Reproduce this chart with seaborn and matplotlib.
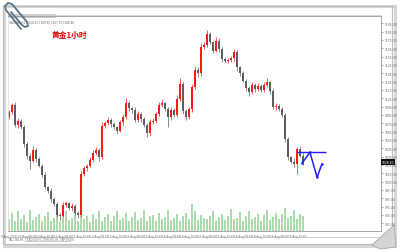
import matplotlib
matplotlib.use("Agg")
import matplotlib.pyplot as plt
import seaborn as sns
import pandas as pd
import numpy as np
from matplotlib.patches import Rectangle, Polygon
from matplotlib.lines import Line2D

# ---------------- data ----------------
closes = [1088, 1097, 1073, 1078, 1070, 1050, 1036, 1030, 1043, 1032,
          1024, 1013, 998, 994, 984, 978, 965, 964, 977, 979,
          973, 976, 967, 965, 1014, 1021, 1024, 1031, 1039, 1043,
          1034, 1072, 1075, 1079, 1074, 1070, 1066, 1076, 1082, 1099,
          1093, 1091, 1079, 1086, 1080, 1073, 1063, 1076, 1078, 1086,
          1097, 1099, 1092, 1082, 1091, 1085, 1104, 1122, 1090, 1082,
          1092, 1118, 1139, 1135, 1166, 1169, 1182, 1172, 1162, 1174,
          1164, 1152, 1150, 1151, 1153, 1160, 1142, 1135, 1126, 1117,
          1112, 1121, 1116, 1120, 1115, 1121, 1124, 1114, 1094, 1096,
          1092, 1085, 1056, 1034, 1029, 1026, 1044, 1036, 1028]
first_open = 1083
upper_wick = [3, 2, 4, 3, 2, 3, 2, 3, 5, 2,
              3, 2, 3, 2, 3, 2, 3, 2, 4, 3,
              2, 3, 2, 3, 4, 3, 2, 3, 4, 3,
              2, 5, 3, 4, 2, 3, 2, 3, 4, 6,
              3, 2, 3, 4, 2, 3, 2, 4, 3, 3,
              4, 5, 2, 3, 4, 2, 5, 7, 3, 2,
              3, 4, 5, 3, 5, 4, 5, 3, 2, 4,
              3, 2, 3, 2, 3, 4, 3, 2, 3, 2,
              3, 4, 2, 3, 2, 4, 5, 2, 3, 3,
              2, 3, 2, 3, 2, 4, 3, 4, 3]
lower_wick = [3, 2, 3, 4, 2, 3, 4, 10, 2, 3,
              2, 3, 2, 3, 4, 2, 3, 5, 2, 3,
              2, 3, 2, 4, 3, 2, 3, 2, 3, 2,
              4, 2, 3, 2, 3, 2, 4, 2, 3, 2,
              3, 4, 3, 2, 3, 2, 4, 3, 2, 3,
              2, 3, 2, 12, 3, 2, 3, 2, 4, 3,
              2, 3, 2, 4, 3, 2, 3, 2, 3, 2,
              3, 4, 2, 3, 2, 3, 4, 3, 2, 3,
              4, 2, 3, 2, 3, 2, 3, 4, 2, 3,
              2, 3, 4, 3, 2, 3, 12, 2, 3]
volumes = [3200, 4800, 2600, 5200, 3000, 4100, 2400, 5600, 2900, 3600,
           4400, 2500, 3800, 5000, 2700, 3400, 4600, 2300, 3900, 5200,
           2800, 3300, 4700, 2600, 5400, 3100, 3800, 2400, 4500, 3000,
           5100, 2700, 3600, 4300, 2500, 3900, 5300, 2800, 3400, 4600,
           2600, 3700, 4900, 2900, 3500, 5400, 2700, 3800, 4200, 2500,
           4700, 3100, 3600, 5600, 2800, 3300, 4400, 2600, 3900, 4800,
           3000, 7000, 5200, 2900, 4100, 3500, 3200, 3800, 5300, 2700,
           3600, 4500, 2800, 4000, 5700, 3100, 3500, 4900, 2700, 3800,
           5200, 3000, 3600, 4400, 2600, 4100, 5500, 2900, 3700, 4800,
           3100, 4300, 5900, 3400, 3900, 5600, 3200, 4500, 3800]
x_labels = ["9 Aug 2010", "10 Aug 08:00", "10 Aug 20:00", "11 Aug 08:00", "11 Aug 20:00",
            "12 Aug 08:00", "12 Aug 20:00", "13 Aug 08:00", "13 Aug 20:00", "16 Aug 08:00",
            "16 Aug 20:00", "17 Aug 08:00", "17 Aug 20:00", "18 Aug 08:00", "18 Aug 20:00",
            "19 Aug 08:00", "19 Aug 20:00"]
price_ticks = [955, 965, 975, 985, 995, 1005, 1015, 1025, 1035, 1045, 1055, 1065, 1075,
               1085, 1095, 1105, 1115, 1125, 1135, 1145, 1155, 1165, 1175, 1185, 1195]
forecast_idx = [97.7, 100.3, 102.7, 104.3]
forecast_price = [1027, 1040, 1010, 1026]
resistance = 1040
resistance_span = [96, 105.7]
current_price = 1028.40
title = "黄金1小时"

# ---------------- figure ----------------
sns.set_style("white")
plt.rcParams['font.family'] = ['DejaVu Sans']

W, H = 400, 253
fig = plt.figure(figsize=(W / 100, H / 100), dpi=100)
fig.patch.set_facecolor("white")

def fx(x):
    return x / W

def fy(y):
    return 1 - y / H

# page frame with shadow
fig.add_artist(Rectangle((fx(4), fy(247)), fx(391), 240 / H, transform=fig.transFigure,
                         fill=False, ec="#d6d6d6", lw=2.2))
fig.add_artist(Rectangle((fx(3), fy(245)), fx(389), 238 / H, transform=fig.transFigure,
                         fill=False, ec="#bdbdbd", lw=0.8))
# page curl bottom-right
fig.add_artist(Polygon([(fx(372), fy(246)), (fx(394), fy(226)), (fx(396), fy(248)), (fx(380), fy(250))],
                       closed=True, transform=fig.transFigure, fc="#d4d4d4", ec="#a8a8a8", lw=0.6))

ax = fig.add_axes([fx(8), fy(232), fx(373), 215 / H])
n = len(closes)
idx = np.arange(n)
opens = [first_open] + closes[:-1]
o = np.array(opens, float)
c = np.array(closes, float)
highs = np.maximum(o, c) + np.array(upper_wick)
lows = np.minimum(o, c) - np.array(lower_wick)
bull = c >= o
colors = np.where(bull, "#ff1a1a", "#5e5e5e")

# volume on twin axis
ax2 = ax.twinx()
vdf = pd.DataFrame({"idx": idx, "volume": volumes})
sns.barplot(data=vdf, x="idx", y="volume", ax=ax2, color="#acdcac", saturation=1,
            width=0.45, linewidth=0)
ax2.set_ylim(0, 56000)
ax2.set_yticks([])
ax2.set_ylabel("")
ax2.set_xlabel("")
for s in ax2.spines.values():
    s.set_visible(False)
ax.set_zorder(ax2.get_zorder() + 1)
ax.patch.set_visible(False)

ax.vlines(idx, lows, highs, colors=colors, lw=0.5)
heights = np.maximum(np.abs(c - o), 0.8)
ax.bar(idx, heights, bottom=np.minimum(o, c), width=0.38, color=colors, linewidth=0)

# forecast drawing
ax.hlines(resistance, resistance_span[0], resistance_span[1], color="#1f1fff", lw=1.0)
sns.lineplot(x=forecast_idx, y=forecast_price, ax=ax, color="#1f1fff", lw=1.1,
             marker="o", markersize=1.8, markeredgewidth=0)

ax.set_xlim(-0.33, 124)
ax.set_ylim(945.6, 1203.6)

ax.yaxis.tick_right()
ax.set_yticks(price_ticks)
ax.set_yticklabels([f"{v:.2f}" for v in price_ticks], fontsize=2.2, color="#555555")
xt = np.arange(0, n, 6)
ax.set_xticks(xt)
ax.set_xticklabels(x_labels[:len(xt)], fontsize=2.0, color="#555555")
ax.tick_params(axis="both", length=1.5, width=0.4, colors="#666666", pad=1)
ax.set_xlabel("")
ax.set_ylabel("")
for side, s in ax.spines.items():
    s.set_linewidth(0.6)
    s.set_color("#9a9a9a")
ax.spines["left"].set_color("#e0e0e0")

# current price tag
ax.text(1.003, current_price, f"{current_price:.2f}", transform=ax.get_yaxis_transform(),
        fontsize=2.2, color="white", va="center", ha="left",
        bbox=dict(boxstyle="square,pad=0.25", fc="#111111", ec="none"))

# header info lines
fig.add_artist(Rectangle((fx(8), fy(18)), fx(47), 3 / H, transform=fig.transFigure,
                         fc="#e2e2e2", ec="#b0b0b0", lw=0.4))
fig.text(fx(9), fy(22.5), "XAUUSD,H1  1028.41 1029.85 1027.95 1028.40", fontsize=2.0,
         color="#666666", va="center")
fig.add_artist(Line2D([fx(8), fx(381)], [fy(16), fy(16)], transform=fig.transFigure,
                      color="#cccccc", lw=0.6))

# bottom tab bar
fig.add_artist(Line2D([fx(8), fx(381)], [fy(238), fy(238)], transform=fig.transFigure,
                      color="#bbbbbb", lw=0.5))
fig.text(fx(9), fy(240.5), "XAUUSD,H1", fontsize=1.9, color="#666666", va="center")
fig.add_artist(Rectangle((fx(25), fy(242)), fx(45), 4 / H, transform=fig.transFigure,
                         fill=False, ec="#aaaaaa", lw=0.4))
fig.text(fx(27), fy(240.2), "XAUUSD,H1  EURUSD,H4  GBPUSD,H1", fontsize=1.8,
         color="#777777", va="center")

# title
fig.text(fx(52), fy(35), title, color="#e00000", fontsize=5.6, fontweight="bold",
         family=["Noto Sans CJK SC", "DejaVu Sans"], va="center", ha="left")

# paperclip
clip_x = [21, 6, 5, 8, 12, 27, 28, 25, 22, 11]
clip_y = [30, 11, 7, 4, 5, 23, 27, 28, 26, 13]
fig.add_artist(Line2D([fx(v) for v in clip_x], [fy(v) for v in clip_y], transform=fig.transFigure,
                      color="#5c7284", lw=1.3, solid_capstyle="round", solid_joinstyle="round"))

fig.savefig("out.png", dpi=100)
